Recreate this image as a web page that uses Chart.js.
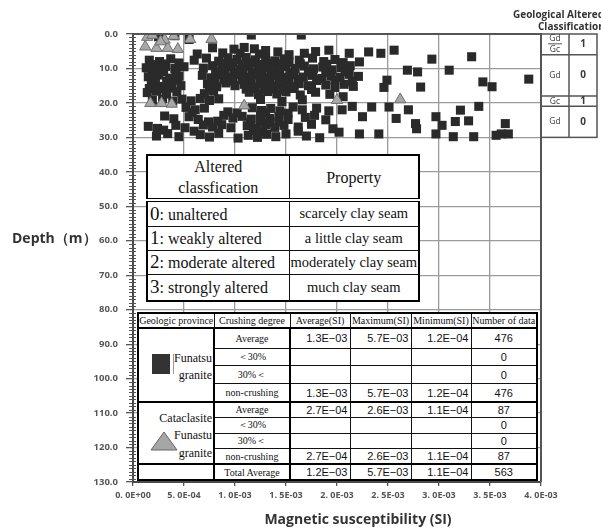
<!DOCTYPE html>
<html>
<head>
<meta charset="utf-8">
<script src="https://cdn.jsdelivr.net/npm/chart.js@4/dist/chart.umd.min.js"></script>
<style>
  html, body { margin: 0; padding: 0; background: #fff; overflow: hidden; }
  #wrap { position: relative; width: 601px; height: 530px; }
  #c { position: absolute; left: 0; top: 0; }
  table.tbl { position: absolute; border-collapse: collapse; table-layout: fixed; background: #fff; color: #111; }
  table.tbl td { padding: 0; white-space: nowrap; overflow: hidden; }

  #alter { left: 146px; top: 154px; width: 272px; border: 2px solid #000; font-family: "Liberation Serif", serif; }
  #alter td { border: 1.5px solid #111; }
  #alter td.head { text-align: center; font-size: 16px; line-height: 21px; border-bottom: 4px double #000; }
  #alter td.cls { text-align: left; font-size: 16px; padding-left: 2px; }
  #alter td.cls .num { font-size: 19px; }
  #alter td.prop { text-align: center; font-size: 14.5px; }

  #stats { left: 137px; top: 312px; width: 399px; border: 2.5px solid #000; font-family: "Liberation Serif", serif; font-size: 10px; }
  #stats td { border: 1.5px solid #111; text-align: center; }
  #stats tr.hdr td { border-bottom: 2.5px solid #000; font-size: 10px; }
  #stats tr.grpEnd td { border-bottom: 2.5px solid #000; }
  #stats td.prov { border-right: 2.5px solid #000; border-bottom: 2.5px solid #000; position: relative; }
  #stats td.deg { border-right: 2.5px solid #000; font-size: 10px; }
  #stats td.numv { font-family: "Liberation Sans", sans-serif; font-size: 11px; text-align: right; padding-right: 2px; }
  #stats td.cnt { font-family: "Liberation Sans", sans-serif; font-size: 11px; text-align: center; }
  .provBox { position: relative; }
  .provBox .ln { position: absolute; right: 1px; font-size: 12px; line-height: 14px; }
</style>
</head>
<body>
<div id="wrap">
  <canvas id="c" width="601" height="530"></canvas>
  <table id="alter" class="tbl"></table>
  <table id="stats" class="tbl"></table>
</div>
<script>
// Funatsu granite: [magnetic susceptibility (SI), depth (m)]
const graniteSquares = [
  [2.5e-4,0.8],[4.1e-4,0.5],[5.5e-4,1.6],[11.6e-4,0.3],[16.5e-4,0.3],[7.8e-4,4.0],[9.9e-4,4.4],[10.9e-4,3.9],
  [11.9e-4,4.3],[13.0e-4,4.8],[14.2e-4,5.2],[15.3e-4,6.0],[16.8e-4,5.6],[17.9e-4,5.1],[6.3e-4,5.8],[8.8e-4,5.5],
  [12.4e-4,5.8],[10.5e-4,5.6],
  [19.2e-4,4.7],[21.2e-4,5.6],[23.1e-4,5.2],[24.3e-4,5.6],[25.6e-4,4.7],[29.3e-4,7.3],[33.2e-4,6.6],[26.9e-4,10.5],
  [27.9e-4,11.0],[31.0e-4,10.5],[24.9e-4,13.4],[24.6e-4,15.5],[28.2e-4,15.4],[34.3e-4,13.9],[35.2e-4,15.3],[38.8e-4,13.1],
  [1.6e-4,7.6],[2.6e-4,8.0],[3.7e-4,7.2],[6.0e-4,7.6],[7.2e-4,7.0],[8.4e-4,7.9],[9.3e-4,6.9],[10.2e-4,7.4],
  [11.1e-4,6.8],[12.0e-4,7.5],[13.0e-4,7.1],[13.9e-4,7.8],[14.8e-4,7.2],[16.3e-4,7.6],[17.6e-4,7.0],[18.7e-4,8.0],[19.8e-4,7.4],
  [8.9e-4,8.6],[9.8e-4,8.4],[10.7e-4,8.7],[11.6e-4,8.3],[12.5e-4,8.8],[13.4e-4,8.5],[14.3e-4,8.7],[15.3e-4,8.2],
  [16.4e-4,8.6],[2.0e-4,8.9],[3.0e-4,8.7],[4.5e-4,8.4],[19.0e-4,8.8],[20.6e-4,8.3],
  [1.3e-4,9.8],[2.2e-4,10.3],[3.2e-4,9.4],[4.1e-4,10.0],[5.0e-4,9.5],[6.9e-4,9.9],[7.8e-4,9.2],[8.7e-4,10.1],
  [9.6e-4,9.5],[10.5e-4,10.2],[11.4e-4,9.3],[12.3e-4,10.0],[13.2e-4,9.6],[14.1e-4,10.3],[15.0e-4,9.4],[15.9e-4,10.0],
  [16.8e-4,9.3],[17.7e-4,10.1],[18.6e-4,9.6],[19.5e-4,10.4],[20.4e-4,9.8],[21.3e-4,9.2],[22.2e-4,8.1],
  [8.1e-4,11.0],[9.0e-4,10.9],[9.9e-4,11.2],[10.8e-4,10.8],[11.7e-4,11.3],[12.6e-4,10.9],[13.5e-4,11.2],[14.4e-4,11.0],
  [15.4e-4,11.3],[17.2e-4,11.0],[18.9e-4,11.2],[20.8e-4,10.9],[1.9e-4,11.1],[3.0e-4,11.0],[4.2e-4,10.8],
  [1.5e-4,12.4],[2.5e-4,11.9],[3.6e-4,12.8],[4.5e-4,12.2],[6.8e-4,12.0],[7.7e-4,12.7],[8.6e-4,11.8],[9.5e-4,12.5],
  [10.4e-4,11.7],[11.3e-4,12.6],[12.2e-4,11.9],[13.1e-4,12.8],[14.0e-4,12.1],[14.9e-4,12.6],[15.8e-4,11.8],[16.7e-4,12.5],
  [17.6e-4,12.0],[18.5e-4,12.9],[19.4e-4,12.2],[20.3e-4,12.6],[21.2e-4,11.7],[22.1e-4,12.3],
  [8.0e-4,13.4],[8.9e-4,13.2],[9.8e-4,13.6],[10.7e-4,13.3],[11.6e-4,13.5],[12.5e-4,13.1],[13.4e-4,13.6],[14.3e-4,13.3],
  [15.3e-4,13.5],[16.2e-4,13.2],[18.0e-4,13.5],[19.8e-4,13.3],[21.5e-4,13.7],[2.2e-4,13.5],[3.3e-4,13.7],[4.4e-4,13.4],
  [1.8e-4,14.6],[2.9e-4,15.2],[3.8e-4,14.4],[4.7e-4,15.0],[7.3e-4,14.5],[8.2e-4,15.3],[9.1e-4,14.2],[10.0e-4,15.0],
  [10.9e-4,14.6],[11.8e-4,15.4],[12.7e-4,14.3],[13.6e-4,15.1],[14.5e-4,14.7],[15.4e-4,15.3],[16.3e-4,14.4],[17.2e-4,15.0],
  [18.9e-4,14.8],[19.8e-4,15.5],[20.7e-4,14.6],[21.6e-4,15.2],
  [7.5e-4,15.9],[11.1e-4,16.0],[12.0e-4,15.8],[12.9e-4,16.1],[13.8e-4,15.9],[14.7e-4,16.2],[15.8e-4,15.8],[17.5e-4,16.1],
  [1.6e-4,15.8],[2.6e-4,16.0],[3.6e-4,15.7],
  [1.4e-4,17.0],[2.3e-4,16.6],[3.3e-4,17.4],[4.3e-4,16.8],[7.0e-4,17.3],[7.9e-4,16.6],[11.4e-4,16.9],[12.3e-4,17.6],
  [13.2e-4,16.7],[14.1e-4,17.4],[15.0e-4,16.8],[16.4e-4,17.7],[17.9e-4,16.9],[19.3e-4,17.5],[20.6e-4,18.2],
  [1.9e-4,19.2],[2.9e-4,18.8],[3.9e-4,19.5],[4.8e-4,18.9],[5.7e-4,19.4],[6.6e-4,18.7],[7.5e-4,19.3],[8.4e-4,18.8],
  [12.5e-4,19.0],[14.6e-4,19.6],[16.6e-4,19.1],
  [5.2e-4,21.3],[6.1e-4,22.0],[7.0e-4,21.5],[11.7e-4,21.4],[12.6e-4,22.2],[13.5e-4,21.6],[14.4e-4,22.3],[15.7e-4,21.2],
  [16.6e-4,22.0],[18.0e-4,21.5],[19.2e-4,22.3],[21.5e-4,21.0],[23.4e-4,21.2],[25.1e-4,21.2],[20.5e-4,22.0],[27.0e-4,22.0],
  [32.1e-4,22.1],[33.9e-4,21.0],
  [5.8e-4,22.8],[13.0e-4,22.9],[15.2e-4,23.0],[9.3e-4,22.6],[10.2e-4,22.9],
  [3.1e-4,23.8],[4.0e-4,24.6],[5.5e-4,24.0],[6.4e-4,24.8],[8.9e-4,23.6],[9.8e-4,24.4],[10.7e-4,23.9],[11.6e-4,24.7],
  [12.5e-4,23.7],[13.4e-4,24.5],[14.3e-4,24.0],[15.2e-4,24.8],[16.9e-4,24.2],[17.8e-4,23.6],[18.9e-4,24.9],[22.5e-4,24.0],
  [25.8e-4,24.5],[29.7e-4,24.0],
  [11.5e-4,25.6],[12.5e-4,25.4],[13.4e-4,25.8],[14.3e-4,25.5],[7.4e-4,25.5],[8.3e-4,25.3],
  [1.5e-4,26.8],[2.4e-4,27.4],[4.2e-4,26.5],[5.1e-4,27.2],[6.9e-4,26.4],[7.8e-4,27.0],[8.7e-4,26.3],[9.6e-4,27.2],
  [11.2e-4,26.6],[12.1e-4,27.3],[13.0e-4,26.4],[13.9e-4,27.1],[14.8e-4,26.5],[16.2e-4,27.0],[17.5e-4,26.2],[19.6e-4,27.5],
  [27.7e-4,26.0],[30.3e-4,26.5],[31.6e-4,25.4],[32.9e-4,25.2],[36.5e-4,26.0],[27.8e-4,27.5],
  [16.2e-4,28.2],[12.7e-4,28.3],[11.8e-4,28.0],[6.0e-4,28.2],[3.0e-4,27.9],
  [2.3e-4,29.6],[3.4e-4,28.9],[4.5e-4,29.8],[6.6e-4,29.2],[7.5e-4,29.9],[8.4e-4,28.8],[10.3e-4,30.2],[11.3e-4,29.4],
  [12.2e-4,30.0],[13.1e-4,29.1],[14.0e-4,29.8],[15.0e-4,29.0],[17.0e-4,29.6],[18.3e-4,30.1],[20.2e-4,28.5],[22.2e-4,29.0],
  [24.1e-4,29.0],[29.7e-4,29.0],[31.4e-4,29.8],[33.4e-4,29.8],[36.1e-4,29.0],[36.8e-4,29.0],[35.6e-4,29.4]
];

// Cataclasite (Funastu granite): [magnetic susceptibility (SI), depth (m)]
const cataclasiteTriangles = [
  [1.2e-4,3.7],[2.3e-4,4.1],[3.4e-4,4.1],[4.4e-4,4.4],[3.1e-4,1.7],[5.6e-4,1.5],[7.7e-4,1.5],[1.4e-4,0.9],
  [1.9e-4,0.3],[2.7e-4,2.2],[4.0e-4,0.6],[1.7e-4,20.1],[2.8e-4,20.1],[3.8e-4,20.3],[10.9e-4,20.8],[20.0e-4,19.2],
  [26.2e-4,19.0]
];

const depthTicks = ['0.0','10.0','20.0','30.0','40.0','50.0','60.0','70.0','80.0','90.0','100.0','110.0','120.0','130.0'];
const susTicks = ['0. 0E+00','5. 0E-04','1. 0E-03','1. 5E-03','2. 0E-03','2. 5E-03','3. 0E-03','3. 5E-03','4. 0E-03'];
const depthStep = 10;
const susStep = 0.0005;

// Geological altered classification zones along the borehole
const zoneTop = [0, 6, 18, 21];
const zoneBottom = [6, 18, 21, 30];
const zoneRock = [['Gd', 'Gc'], ['Gd'], ['Gc'], ['Gd']];
const zoneGrade = ['1', '0', '1', '0'];

// Altered classification legend
const alterGrades = ['0', '1', '2', '3'];
const alterNames = ['unaltered', 'weakly altered', 'moderate altered', 'strongly altered'];
const alterProperties = ['scarcely clay seam', 'a little clay seam', 'moderately clay seam', 'much clay seam'];

// Summary statistics
const statHeaders = ['Geologic province', 'Crushing degree', 'Average(SI)', 'Maximum(SI)', 'Minimum(SI)', 'Number of data'];
const crushDegrees = ['Average', '\uFF1C30%', '30%\uFF1C', 'non-crushing'];
const graniteStats = [
  ['1.3E\u221203', '5.7E\u221203', '1.2E\u221204', '476'],
  ['', '', '', '0'],
  ['', '', '', '0'],
  ['1.3E\u221203', '5.7E\u221203', '1.2E\u221204', '476']
];
const cataclasiteStats = [
  ['2.7E\u221204', '2.6E\u221203', '1.1E\u221204', '87'],
  ['', '', '', '0'],
  ['', '', '', '0'],
  ['2.7E\u221204', '2.6E\u221203', '1.1E\u221204', '87']
];
const totalStats = ['1.2E\u221203', '5.7E\u221203', '1.1E\u221204', '563'];

// ---- tables ----
(function buildTables() {
  const alter = document.getElementById('alter');
  const rowH = [26, 24, 24, 27];
  let h = '<colgroup><col style="width:142px"><col style="width:130px"></colgroup>';
  h += '<tr style="height:45px"><td class="head">Altered<br>classfication</td><td class="head">Property</td></tr>';
  alterGrades.forEach((g, i) => {
    h += `<tr style="height:${rowH[i]}px"><td class="cls"><span class="num">${g}</span>: ${alterNames[i]}</td>` +
         `<td class="prop">${alterProperties[i]}</td></tr>`;
  });
  alter.innerHTML = h;

  const stats = document.getElementById('stats');
  const colW = [76, 76, 60, 61, 60, 66];
  const grRowH = [20, 17, 18, 18];
  const caRowH = [15, 16, 15, 15];
  let s = '<colgroup>' + colW.map(w => `<col style="width:${w}px">`).join('') + '</colgroup>';
  s += '<tr class="hdr" style="height:15px">' + statHeaders.map(t => `<td>${t}</td>`).join('') + '</tr>';

  const graniteCell = '<td class="prov" rowspan="4"><div class="provBox" style="height:72px">' +
    '<div style="position:absolute;left:13px;top:25px;width:18px;height:20px;background:#333"></div>' +
    '<div style="position:absolute;left:34px;top:25px;width:1px;height:20px;background:#999"></div>' +
    '<div class="ln" style="top:22px">Funatsu</div><div class="ln" style="top:39px">granite</div></div></td>';
  const cataCell = '<td class="prov" rowspan="4"><div class="provBox" style="height:60px">' +
    '<svg style="position:absolute;left:11px;top:28px" width="28" height="20"><polygon points="14,1 27,19 1,19" fill="#a6a6a6" stroke="#666" stroke-width="1"/></svg>' +
    '<div class="ln" style="top:8px">Cataclasite</div><div class="ln" style="top:25px">Funastu</div>' +
    '<div class="ln" style="top:43px">granite</div></div></td>';

  const group = (cell, rows, heights) => {
    let g = '';
    rows.forEach((r, i) => {
      g += `<tr${i === 3 ? ' class="grpEnd"' : ''} style="height:${heights[i]}px">` + (i === 0 ? cell : '') +
        `<td class="deg">${crushDegrees[i]}</td>` +
        `<td class="numv">${r[0]}</td><td class="numv">${r[1]}</td><td class="numv">${r[2]}</td><td class="cnt">${r[3]}</td></tr>`;
    });
    return g;
  };
  s += group(graniteCell, graniteStats, grRowH);
  s += group(cataCell, cataclasiteStats, caRowH);
  s += '<tr style="height:16px"><td style="border-right:2.5px solid #000"></td><td class="deg">Total Average</td>' +
       `<td class="numv">${totalStats[0]}</td><td class="numv">${totalStats[1]}</td><td class="numv">${totalStats[2]}</td><td class="cnt">${totalStats[3]}</td></tr>`;
  stats.innerHTML = s;
})();

// ---- chart decorations ----
const decorations = {
  id: 'decorations',
  afterDraw(chart) {
    const ctx = chart.ctx;
    const area = chart.chartArea;
    const y = chart.scales.y;
    ctx.save();

    // plot frame (top and right)
    ctx.strokeStyle = '#555';
    ctx.lineWidth = 2;
    ctx.beginPath();
    ctx.moveTo(area.left, area.top); ctx.lineTo(area.right, area.top); ctx.lineTo(area.right, area.bottom);
    ctx.stroke();

    // minor depth ticks every metre
    ctx.strokeStyle = '#555';
    ctx.lineWidth = 1;
    ctx.beginPath();
    for (let d = 1; d < 130; d++) {
      if (d % 10 === 0) continue;
      const py = Math.round(y.getPixelForValue(d)) + 0.5;
      ctx.moveTo(area.left - 4, py); ctx.lineTo(area.left + 3, py);
    }
    ctx.stroke();

    // geological altered classification column
    const x0 = area.right, xm = 569, x1 = 597;
    const yTop = y.getPixelForValue(zoneTop[0]);
    const yBot = y.getPixelForValue(zoneBottom[zoneBottom.length - 1]);
    ctx.fillStyle = '#fff';
    ctx.fillRect(x0 + 1, yTop, x1 - x0 - 1, yBot - yTop);
    ctx.strokeStyle = '#555';
    ctx.lineWidth = 1.5;
    ctx.strokeRect(x0, yTop, x1 - x0, yBot - yTop);
    ctx.beginPath();
    ctx.moveTo(xm, yTop); ctx.lineTo(xm, yBot);
    zoneBottom.slice(0, -1).forEach(d => {
      const py = y.getPixelForValue(d);
      ctx.moveTo(x0, py); ctx.lineTo(x1, py);
    });
    ctx.stroke();
    ctx.textAlign = 'center';
    ctx.textBaseline = 'middle';
    zoneTop.forEach((t, i) => {
      const pt = y.getPixelForValue(t), pb = y.getPixelForValue(zoneBottom[i]);
      const cy = (pt + pb) / 2;
      const cxL = (x0 + xm) / 2, cxR = (xm + x1) / 2;
      ctx.fillStyle = '#3a3a3a';
      ctx.font = '8.5px "Open Sans"';
      if (zoneRock[i].length === 2) {
        ctx.fillText(zoneRock[i][0], cxL, cy - 6);
        ctx.fillText(zoneRock[i][1], cxL, cy + 5);
        ctx.lineWidth = 1;
        ctx.beginPath(); ctx.moveTo(cxL - 7, cy - 0.5); ctx.lineTo(cxL + 7, cy - 0.5); ctx.stroke();
      } else {
        ctx.fillText(zoneRock[i][0], cxL, cy);
      }
      ctx.font = 'bold 10px "Open Sans"';
      ctx.fillText(zoneGrade[i], cxR, cy);
    });

    // titles
    ctx.fillStyle = '#333';
    ctx.textAlign = 'left';
    ctx.font = 'bold 10px "Open Sans"';
    ctx.fillText('Geological Altered', 513, 15);
    ctx.fillText('Classification', 538, 27);
    ctx.font = 'bold 14px "Open Sans"';
    ctx.fillText('Depth\uFF08m\uFF09', 12, 239);
    ctx.textAlign = 'center';
    ctx.fillText('Magnetic susceptibility (SI)', 358, 520);
    ctx.restore();
  }
};

const toPoints = arr => arr.map(([x, y]) => ({ x, y }));

new Chart(document.getElementById('c'), {
  type: 'scatter',
  data: {
    datasets: [
      {
        label: 'Cataclasite Funastu granite',
        data: toPoints(cataclasiteTriangles),
        pointStyle: 'triangle',
        pointRadius: 6.5,
        backgroundColor: '#a8a8a8',
        borderColor: '#6e6e6e',
        borderWidth: 1,
        order: 0
      },
      {
        label: 'Funatsu granite',
        data: toPoints(graniteSquares),
        pointStyle: 'rect',
        pointRadius: 6.4,
        backgroundColor: '#2a2a2a',
        borderColor: '#2a2a2a',
        borderWidth: 0,
        order: 1
      }
    ]
  },
  options: {
    responsive: false,
    animation: false,
    events: [],
    layout: { padding: { top: 34, right: 60, left: 0, bottom: 0 } },
    plugins: { legend: { display: false }, tooltip: { enabled: false } },
    scales: {
      x: {
        type: 'linear', min: 0, max: 0.004,
        ticks: {
          stepSize: susStep, autoSkip: false, maxRotation: 0, padding: 4,
          callback: v => susTicks[Math.round(v / susStep)],
          font: { family: 'Open Sans', weight: 'bold', size: 9 }, color: '#555'
        },
        grid: { color: '#9b9b9b', lineWidth: 1.3, tickLength: 4, tickColor: '#555' },
        border: { color: '#4a4a4a', width: 2 },
        afterFit: s => { s.height = 48; }
      },
      y: {
        type: 'linear', min: 0, max: 130, reverse: true,
        ticks: {
          stepSize: depthStep, autoSkip: false, padding: 8,
          callback: v => depthTicks[Math.round(v / depthStep)],
          font: { family: 'Open Sans', weight: 'bold', size: 9.5 }, color: '#555'
        },
        grid: { color: '#9b9b9b', lineWidth: 1.3, tickLength: 7, tickColor: '#555' },
        border: { color: '#4a4a4a', width: 2 },
        afterFit: s => { s.width = 133; }
      }
    }
  },
  plugins: [decorations]
});
</script>
</body>
</html>
